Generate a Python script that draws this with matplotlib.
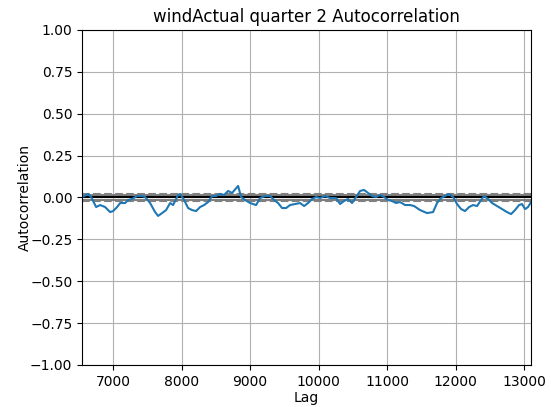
import numpy as np
import matplotlib
matplotlib.use("Agg")
import matplotlib.pyplot as plt

# autocorrelation of windActual (quarter 2), lags past the halfway point
n_obs = 13102
lags = [6547, 6577, 6635, 6679, 6752, 6810, 6883, 6956, 7000, 7058,
        7102, 7175, 7219, 7277, 7350, 7423, 7467, 7540, 7613, 7657,
        7715, 7774, 7832, 7876, 7949, 7978, 8037, 8095, 8153, 8212,
        8270, 8329, 8387, 8445, 8504, 8562, 8621, 8679, 8737, 8825,
        8869, 8927, 9000, 9088, 9146, 9219, 9292, 9351, 9409, 9467,
        9526, 9584, 9657, 9730, 9789, 9847, 9905, 9964, 10022, 10095,
        10168, 10256, 10314, 10372, 10431, 10489, 10548, 10606, 10665, 10723,
        10781, 10840, 10898, 10957, 11015, 11073, 11132, 11190, 11263, 11336,
        11395, 11482, 11584, 11672, 11730, 11789, 11847, 11906, 11964, 12022,
        12081, 12139, 12198, 12256, 12314, 12373, 12417, 12475, 12533, 12606,
        12679, 12752, 12811, 12869, 12928, 12971, 13015, 13059, 13102]
acf = [0.003, 0.009, 0.021, 0.003, -0.057, -0.045, -0.057, -0.087, -0.081, -0.057,
       -0.033, -0.033, -0.015, -0.009, 0.009, 0.009, 0.003, -0.033, -0.087, -0.110,
       -0.093, -0.075, -0.033, -0.045, 0.015, 0.021, -0.015, -0.063, -0.075, -0.081,
       -0.057, -0.045, -0.027, 0.009, 0.009, 0.021, 0.015, 0.039, 0.027, 0.069,
       0.003, -0.015, -0.033, -0.045, -0.003, 0.009, 0.009, -0.015, -0.033, -0.063,
       -0.063, -0.045, -0.039, -0.033, -0.051, -0.033, -0.009, 0.003, -0.003, 0.009,
       -0.003, -0.003, -0.039, -0.021, -0.009, -0.033, 0.003, 0.039, 0.045, 0.027,
       0.009, 0.003, 0.015, 0.003, -0.015, -0.021, -0.033, -0.027, -0.045, -0.045,
       -0.051, -0.075, -0.093, -0.087, -0.033, -0.003, 0.009, 0.021, 0.003, -0.039,
       -0.069, -0.081, -0.057, -0.045, -0.051, -0.015, 0.009, -0.009, -0.033, -0.051,
       -0.069, -0.087, -0.099, -0.075, -0.045, -0.039, -0.069, -0.057, -0.027]

z95 = 1.959963984540054
z99 = 2.5758293035489
band95 = z95 / np.sqrt(n_obs)
band99 = z99 / np.sqrt(n_obs)

fig = plt.figure(figsize=(5.51, 4.07), dpi=100)
ax = fig.add_axes([0.149, 0.1032, 0.8147, 0.8231])

ax.axhline(y=band99, linestyle="--", color="grey")
ax.axhline(y=band95, color="grey")
ax.axhline(y=0.0, color="black")
ax.axhline(y=-band95, color="grey")
ax.axhline(y=-band99, linestyle="--", color="grey")
ax.plot(lags, acf)

ax.set_xlim(6547, 13102)
ax.set_ylim(-1.0, 1.0)
ax.set_xlabel("Lag", labelpad=1.8)
ax.set_ylabel("Autocorrelation", labelpad=-1.0)
ax.set_title("windActual quarter 2 Autocorrelation")
ax.grid()

fig.savefig("out.png", dpi=100)
